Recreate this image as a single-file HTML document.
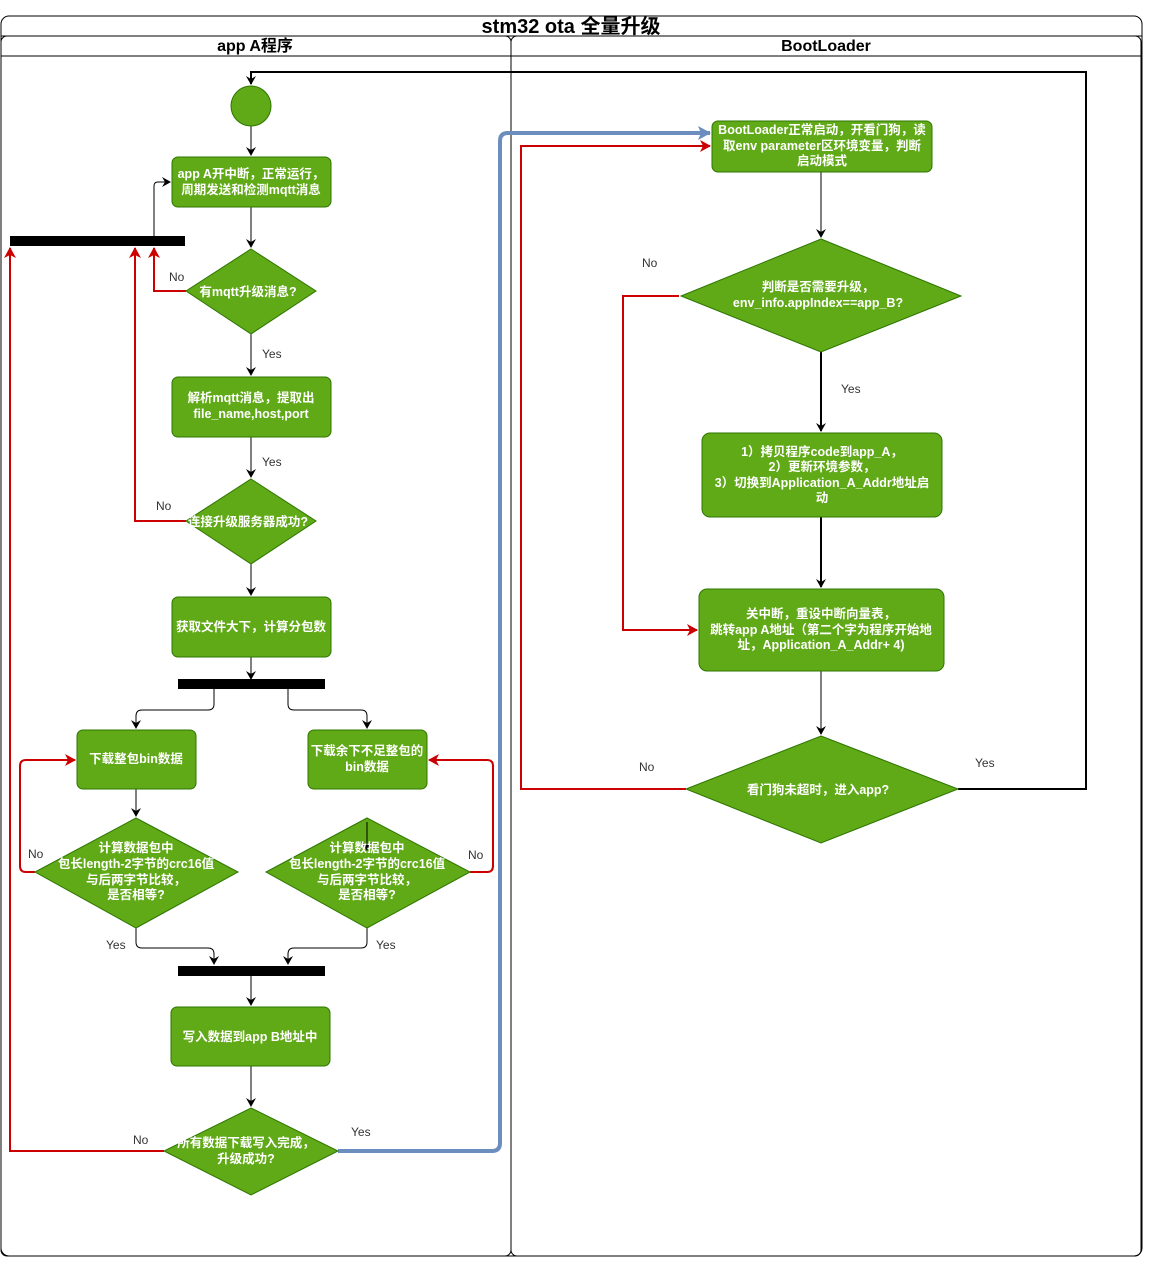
<!DOCTYPE html>
<html><head><meta charset="utf-8"><style>
html,body{margin:0;padding:0;background:#fff;}
svg{display:block;font-family:"Liberation Sans","Noto Sans CJK SC",sans-serif;}
.n{fill:#60a917;stroke:#2d7600;stroke-width:1;}
.t{fill:#fff;font-size:12.5px;font-weight:bold;text-anchor:middle;}
.l{fill:#333;font-size:12px;}
.k{fill:none;stroke:#000;stroke-width:1;}
.r{fill:none;stroke:#c00;stroke-width:2;}
</style></head><body>
<svg width="1154" height="1268" viewBox="0 0 1154 1268" xmlns="http://www.w3.org/2000/svg">
<defs>
<marker id="ak" markerWidth="10" markerHeight="10" refX="8" refY="5" orient="auto" markerUnits="userSpaceOnUse"><path d="M0,0 L9,5 L0,10 L3,5 Z" fill="#000"/></marker>
<marker id="ar" markerWidth="12" markerHeight="12" refX="10" refY="6" orient="auto" markerUnits="userSpaceOnUse"><path d="M0,0 L11,6 L0,12 L3,6 Z" fill="#c00"/></marker>
<marker id="ab" markerWidth="14" markerHeight="14" refX="12" refY="7" orient="auto" markerUnits="userSpaceOnUse"><path d="M0,0 L13,7 L0,14 L3,7 Z" fill="#6c8ebf"/></marker>
</defs>
<rect x="1" y="16" width="1141" height="1240" rx="8" fill="none" stroke="#000"/>
<line x1="1" y1="36" x2="1142" y2="36" stroke="#000"/>
<text x="571" y="33" font-size="20" font-weight="bold" text-anchor="middle">stm32 ota 全量升级</text>
<rect x="1" y="36" width="510" height="1220" rx="6" fill="none" stroke="#000"/>
<rect x="511" y="36" width="630" height="1220" rx="6" fill="none" stroke="#000"/>
<line x1="1" y1="56" x2="1141" y2="56" stroke="#000"/>
<text x="255" y="51" font-size="16" font-weight="bold" text-anchor="middle">app A程序</text>
<text x="826" y="51" font-size="16" font-weight="bold" text-anchor="middle">BootLoader</text>

<polyline points="958,789 1086,789 1086,72 251,72 251,84" fill="none" stroke="#000" stroke-width="2" marker-end="url(#ak)"/>
<path d="M338,1151 L492,1151 Q500,1151 500,1143 L500,141 Q500,133 508,133 L710,133" fill="none" stroke="#6c8ebf" stroke-width="4" marker-end="url(#ab)"/>
<polyline class="r" points="686,789 521,789 521,146 710,146" marker-end="url(#ar)"/>
<polyline class="r" points="679,296 623,296 623,630 697,630" marker-end="url(#ar)"/>
<polyline class="r" points="186,291 154,291 154,248" marker-end="url(#ar)"/>
<polyline class="r" points="186,521 135,521 135,248" marker-end="url(#ar)"/>
<polyline class="r" points="164,1151 10,1151 10,248" marker-end="url(#ar)"/>
<path class="r" d="M35,872 L26,872 Q20,872 20,866 L20,766 Q20,760 26,760 L75,760" marker-end="url(#ar)"/>
<path class="r" d="M470,872 L487,872 Q493,872 493,866 L493,766 Q493,760 487,760 L429,760" marker-end="url(#ar)"/>
<line class="k" x1="251" y1="126" x2="251" y2="155" marker-end="url(#ak)"/>
<line class="k" x1="251" y1="207" x2="251" y2="247" marker-end="url(#ak)"/>
<path class="k" d="M154,236 L154,186 Q154,182 158,182 L170,182" marker-end="url(#ak)"/>
<line class="k" x1="251" y1="334" x2="251" y2="375" marker-end="url(#ak)"/>
<line class="k" x1="251" y1="437" x2="251" y2="477" marker-end="url(#ak)"/>
<line class="k" x1="251" y1="564" x2="251" y2="595" marker-end="url(#ak)"/>
<line class="k" x1="251" y1="657" x2="251" y2="679" marker-end="url(#ak)"/>
<path class="k" d="M214,689 L214,704 Q214,710 208,710 L142,710 Q136,710 136,716 L136,728" marker-end="url(#ak)"/>
<path class="k" d="M288,689 L288,704 Q288,710 294,710 L361,710 Q367,710 367,716 L367,728" marker-end="url(#ak)"/>
<line class="k" x1="136" y1="789" x2="136" y2="816" marker-end="url(#ak)"/>
<path class="k" d="M136,928 L136,942 Q136,948 142,948 L208,948 Q214,948 214,954 L214,964" marker-end="url(#ak)"/>
<path class="k" d="M367,928 L367,942 Q367,948 361,948 L294,948 Q288,948 288,954 L288,964" marker-end="url(#ak)"/>
<line class="k" x1="251" y1="976" x2="251" y2="1005" marker-end="url(#ak)"/>
<line class="k" x1="251" y1="1066" x2="251" y2="1106" marker-end="url(#ak)"/>
<line class="k" x1="821" y1="172" x2="821" y2="237" marker-end="url(#ak)"/>
<line x1="821" y1="352" x2="821" y2="431" stroke="#000" stroke-width="2" marker-end="url(#ak)"/>
<line x1="821" y1="517" x2="821" y2="587" stroke="#000" stroke-width="2" marker-end="url(#ak)"/>
<line class="k" x1="821" y1="671" x2="821" y2="734" marker-end="url(#ak)"/>

<rect x="10" y="236" width="175" height="10" fill="#000"/>
<rect x="178" y="679" width="147" height="10" fill="#000"/>
<rect x="178" y="966" width="147" height="10" fill="#000"/>

<circle class="n" cx="251" cy="106" r="20"/>
<rect class="n" x="172" y="157" width="159" height="50" rx="6"/>
<text class="t" x="251" y="178">app A开中断，正常运行，</text>
<text class="t" x="251" y="194">周期发送和检测mqtt消息</text>
<polygon class="n" points="251,249 316,291 251,334 186,291"/>
<text class="t" x="248" y="296">有mqtt升级消息?</text>
<rect class="n" x="172" y="377" width="159" height="60" rx="6"/>
<text class="t" x="251" y="402">解析mqtt消息，提取出</text>
<text class="t" x="251" y="418">file_name,host,port</text>
<polygon class="n" points="251,479 316,521 251,564 186,521"/>
<text class="t" x="248" y="526">连接升级服务器成功?</text>
<rect class="n" x="172" y="597" width="159" height="60" rx="6"/>
<text class="t" x="251" y="631">获取文件大下，计算分包数</text>
<rect class="n" x="77" y="730" width="119" height="59" rx="6"/>
<text class="t" x="136" y="763">下载整包bin数据</text>
<rect class="n" x="308" y="730" width="119" height="59" rx="6"/>
<text class="t" x="367" y="755">下载余下不足整包的</text>
<text class="t" x="367" y="771">bin数据</text>
<polygon class="n" points="136,818 238,872 136,928 35,872"/>
<text class="t" x="136" y="852">计算数据包中</text>
<text class="t" x="136" y="868">包长length-2字节的crc16值</text>
<text class="t" x="136" y="884">与后两字节比较，</text>
<text class="t" x="136" y="899">是否相等?</text>
<polygon class="n" points="367,818 470,872 367,928 266,872"/>
<line class="k" x1="367" y1="822" x2="367" y2="850" marker-end="url(#ak)"/>
<text class="t" x="367" y="852">计算数据包中</text>
<text class="t" x="367" y="868">包长length-2字节的crc16值</text>
<text class="t" x="367" y="884">与后两字节比较，</text>
<text class="t" x="367" y="899">是否相等?</text>
<rect class="n" x="171" y="1007" width="159" height="59" rx="6"/>
<text class="t" x="250" y="1041">写入数据到app B地址中</text>
<polygon class="n" points="251,1108 338,1151 251,1195 164,1151"/>
<text class="t" x="246" y="1147">所有数据下载写入完成，</text>
<text class="t" x="246" y="1163">升级成功?</text>

<rect class="n" x="712" y="121" width="220" height="51" rx="6"/>
<text class="t" x="822" y="134">BootLoader正常启动，开看门狗，读</text>
<text class="t" x="822" y="150">取env parameter区环境变量，判断</text>
<text class="t" x="822" y="165">启动模式</text>
<polygon class="n" points="821,239 961,296 821,352 681,296"/>
<text class="t" x="818" y="291">判断是否需要升级，</text>
<text class="t" x="818" y="307">env_info.appIndex==app_B?</text>
<rect class="n" x="702" y="433" width="240" height="84" rx="8"/>
<text class="t" x="822" y="456">1）拷贝程序code到app_A，</text>
<text class="t" x="822" y="471">2）更新环境参数，</text>
<text class="t" x="822" y="487">3）切换到Application_A_Addr地址启</text>
<text class="t" x="822" y="502">动</text>
<rect class="n" x="699" y="589" width="245" height="82" rx="8"/>
<text class="t" x="821" y="618">关中断，重设中断向量表，</text>
<text class="t" x="821" y="634">跳转app A地址（第二个字为程序开始地</text>
<text class="t" x="821" y="649">址，Application_A_Addr+ 4)</text>
<polygon class="n" points="821,736 958,789 821,843 686,789"/>
<text class="t" x="818" y="794">看门狗未超时，进入app?</text>

<text class="l" x="169" y="281">No</text>
<text class="l" x="262" y="358">Yes</text>
<text class="l" x="262" y="466">Yes</text>
<text class="l" x="156" y="510">No</text>
<text class="l" x="28" y="858">No</text>
<text class="l" x="468" y="859">No</text>
<text class="l" x="106" y="949">Yes</text>
<text class="l" x="376" y="949">Yes</text>
<text class="l" x="133" y="1144">No</text>
<text class="l" x="351" y="1136">Yes</text>
<text class="l" x="642" y="267">No</text>
<text class="l" x="841" y="393">Yes</text>
<text class="l" x="639" y="771">No</text>
<text class="l" x="975" y="767">Yes</text>
</svg>
</body></html>
